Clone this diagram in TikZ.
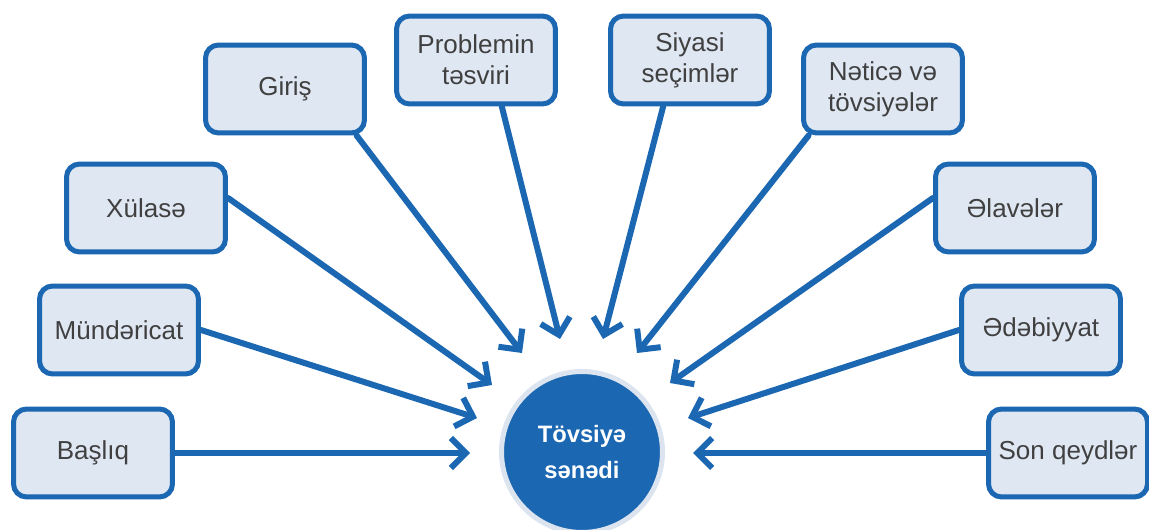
\documentclass[tikz,border=0pt]{standalone}
\usepackage{fontspec}
\setmainfont{Liberation Sans}
\usetikzlibrary{arrows.meta}
\definecolor{docblue}{HTML}{1B67B2}
\definecolor{boxfill}{HTML}{DFE7F3}
\definecolor{ringgray}{HTML}{DCE4F0}
\definecolor{textgray}{HTML}{404040}
\tikzset{
  part/.style={draw=docblue, fill=boxfill, line width=0.1cm, rounded corners=0.26cm,
    minimum width=3.18cm, minimum height=1.76cm, inner sep=0pt, align=center,
    text=textgray, font=\fontsize{14.8}{17.6}\selectfont},
  hub/.style={circle, draw=ringgray, fill=docblue, line width=0.1cm, minimum size=3.22cm,
    inner sep=0pt, align=center, text=white, font=\bfseries\fontsize{13.5}{20}\selectfont},
  feed/.style={draw=docblue, line width=0.12cm, line cap=round, line join=round,
    -{Straight Barb[length=0.3cm, width=0.6cm]}}
}

\begin{document}
\begin{tikzpicture}[x=0.02cm, y=-0.02cm]
    \useasboundingbox (0,0) rectangle (1149,530);

    % Centre circle
    \node[hub] (doc) at (582,452) {Tövsiyə\\sənədi};

    % Parts on the left
    \node[part] (baslig) at (93,453) {Başlıq};
    \node[part] (mundericat) at (119,330) {Mündəricat};
    \node[part] (xulase) at (146,208) {Xülasə};
    \node[part] (giris) at (285,89) {Giriş};
    \node[part] (problem) at (476,60) {Problemin\\təsviri};

    % Parts on the right
    \node[part] (siyasi) at (690,60) {Siyasi\\seçimlər};
    \node[part] (netice) at (883,89) {Nəticə və\\tövsiyələr};
    \node[part] (elave) at (1015,208) {Əlavələr};
    \node[part] (edebiyyat) at (1041,330) {Ədəbiyyat};
    \node[part] (sonqeyd) at (1068,453) {Son qeydlər};

    % Arrow tips round the circle
    \coordinate (tbaslig) at (470,453);
    \coordinate (tmundericat) at (477,418);
    \coordinate (txulase) at (492,385);
    \coordinate (tgiris) at (522,353);
    \coordinate (tproblem) at (560,339);
    \coordinate (tsiyasi) at (603,339);
    \coordinate (tnetice) at (637,353);
    \coordinate (telave) at (670,383);
    \coordinate (tedebiyyat) at (688,418);
    \coordinate (tsonqeyd) at (693,453);

    % Arrows
    \draw[feed] (baslig.east) -- (tbaslig);
    \draw[feed] (mundericat.east) -- (tmundericat);
    \draw[feed] (xulase.7) -- (txulase);
    \draw[feed] (giris.-33) -- (tgiris);
    \draw[feed] (problem.-61) -- (tproblem);
    \draw[feed] (siyasi.240) -- (tsiyasi);
    \draw[feed] (netice.212) -- (tnetice);
    \draw[feed] (elave.173) -- (telave);
    \draw[feed] (edebiyyat.west) -- (tedebiyyat);
    \draw[feed] (sonqeyd.west) -- (tsonqeyd);
\end{tikzpicture}
\end{document}
